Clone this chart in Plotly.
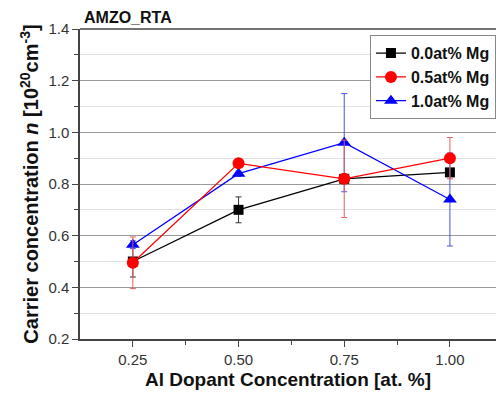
import plotly.graph_objects as go

x_vals = [0.25, 0.50, 0.75, 1.00]
names = ["0.0at% Mg", "0.5at% Mg", "1.0at% Mg"]
y_mg00 = [0.50, 0.70, 0.82, 0.845]
y_mg05 = [0.495, 0.88, 0.82, 0.90]
y_mg10 = [0.565, 0.84, 0.96, 0.74]
err_mg00 = [0.06, 0.05, 0.015, 0.015]
err_mg05 = [0.10, 0.01, 0.15, 0.08]
err_mg10 = [0.015, 0.01, 0.19, 0.18]

colors = ["#000000", "#ff0000", "#0000ff"]
err_colors = ["#333333", "#e06060", "#5050e0"]
symbols = ["square", "circle", "triangle-up"]
sizes = [10, 12, 12]
ys = [y_mg00, y_mg05, y_mg10]
errs = [err_mg00, err_mg05, err_mg10]
ranks = [1, 2, 3]

fig = go.Figure()
for i in [0, 2, 1]:
    fig.add_trace(go.Scatter(
        x=x_vals, y=ys[i], name=names[i], mode="lines+markers",
        line=dict(color=colors[i], width=1.3),
        marker=dict(symbol=symbols[i], size=sizes[i], color=colors[i]),
        error_y=dict(type="data", array=errs[i], color=err_colors[i], thickness=1, width=3),
        legendrank=ranks[i],
    ))

font_family = "Liberation Sans, Arial, sans-serif"
fig.update_layout(
    width=496, height=394,
    margin=dict(l=80, r=0, t=29, b=55),
    plot_bgcolor="white", paper_bgcolor="white",
    font=dict(family=font_family, color="#333333"),
    showlegend=True,
    legend=dict(x=0.697, y=0.98, xanchor="left", yanchor="top",
                bordercolor="#888888", borderwidth=1, bgcolor="white",
                font=dict(size=16, color="#111111", family=font_family, weight="bold"),
                itemwidth=30, tracegroupgap=0),
    xaxis=dict(range=[0.125, 1.109], tickvals=x_vals, tickformat=".2f",
               showgrid=False, zeroline=False, showline=True, linecolor="#444444", linewidth=1.5,
               ticks="outside", ticklen=6, tickcolor="#444444",
               minor=dict(tickvals=[0.375, 0.625, 0.875], ticks="outside", ticklen=4, tickcolor="#444444"),
               tickfont=dict(size=15, color="#333333"),
               title=dict(text="<b>Al Dopant Concentration [at. %]</b>", font=dict(size=19, color="#111111"), standoff=6)),
    yaxis=dict(range=[0.2, 1.4], dtick=0.2, tick0=0.2, tickformat=".1f",
               showgrid=True, gridcolor="#9a9a9a", gridwidth=1, zeroline=False,
               showline=True, linecolor="#444444", linewidth=1.5,
               ticks="outside", ticklen=6, tickcolor="#444444",
               minor=dict(dtick=0.1, tick0=0.3, ticks="outside", ticklen=4, tickcolor="#444444",
                          showgrid=True, gridcolor="#e2e2e2", gridwidth=1),
               tickfont=dict(size=15, color="#333333"),
               title=dict(text="<b>Carrier concentration <i>n</i> [10<sup>20</sup>cm<sup>-3</sup>]</b>",
                          font=dict(size=20, color="#111111"), standoff=4)),
)
fig.add_shape(type="line", xref="paper", yref="paper", x0=0, x1=1, y0=1, y1=1,
              line=dict(color="#444444", width=1.5))
fig.add_annotation(text="<b>AMZO_RTA</b>", xref="paper", yref="paper", x=0.005, y=1.0,
                   xanchor="left", yanchor="bottom", yshift=1, showarrow=False,
                   font=dict(size=16, color="#111111", family=font_family))
fig.write_html("out.html")
